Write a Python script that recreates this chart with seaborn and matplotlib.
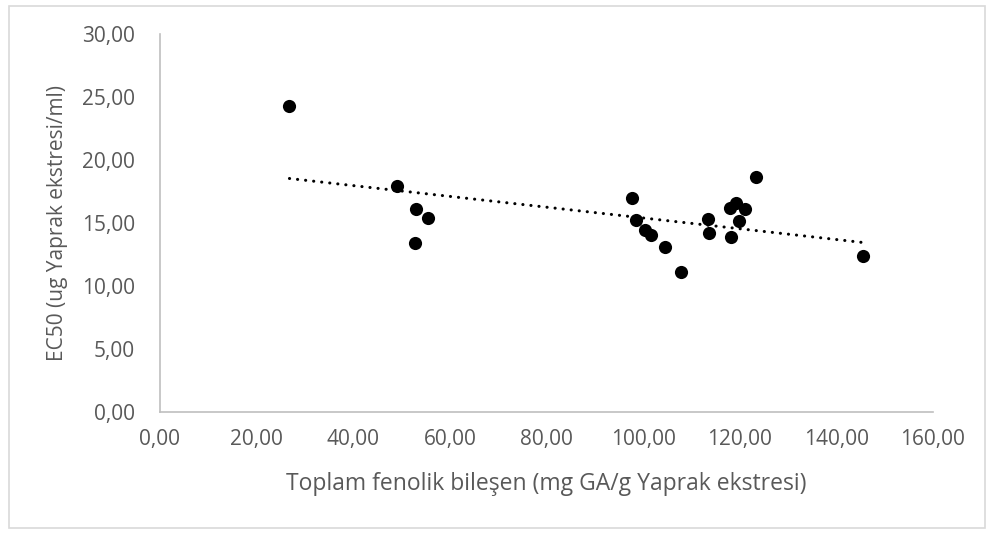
import matplotlib
matplotlib.use("Agg")
import matplotlib.pyplot as plt
from matplotlib.patches import Rectangle
from matplotlib.ticker import FuncFormatter, MultipleLocator
import numpy as np
import pandas as pd
import seaborn as sns

# Total phenolic content vs. EC50 of leaf extracts
phenolic = [26.8, 49.0, 52.9, 55.4, 52.7, 97.7, 98.5, 100.4, 101.6, 104.5,
            107.9, 113.5, 113.7, 123.3, 118.0, 119.2, 121.1, 119.9, 118.2, 145.6]
ec50 = [24.29, 17.94, 16.11, 15.42, 13.39, 16.96, 15.24, 14.44, 14.05, 13.12,
        11.09, 15.32, 14.18, 18.67, 16.21, 16.56, 16.09, 15.18, 13.91, 12.40]

x_label = "Toplam fenolik bileşen (mg GA/g Yaprak ekstresi)"
y_label = "EC50 (ug Yaprak ekstresi/ml)"

df = pd.DataFrame({"x": phenolic, "y": ec50})

sns.set_theme(style="white")
plt.rcParams["font.family"] = ["Open Sans", "DejaVu Sans"]

fig = plt.figure(figsize=(9.9, 5.36), dpi=100)
ax = fig.add_axes([0.1616, 0.2313, 0.9424 - 0.1616, 0.9366 - 0.2313])

# chart-area border
fig.patches.append(Rectangle((9 / 990, 1 - 528 / 536), (985 - 9) / 990, (528 - 6) / 536,
                             transform=fig.transFigure, fill=False,
                             edgecolor="#d9d9d9", linewidth=1.2))

sns.regplot(data=df, x="x", y="y", ax=ax, scatter=False, ci=None, truncate=True,
            line_kws=dict(color="black", linewidth=2.2, linestyle=(0, (0.05, 2.6)),
                          dash_capstyle="round"))
sns.scatterplot(data=df, x="x", y="y", ax=ax, color="black", s=90,
                edgecolor="black", linewidth=0, zorder=3)

ax.set_xlim(0, 160)
ax.set_ylim(0, 30)
ax.xaxis.set_major_locator(MultipleLocator(20))
ax.yaxis.set_major_locator(MultipleLocator(5))
fmt = FuncFormatter(lambda v, p: f"{v:.2f}".replace(".", ","))
ax.xaxis.set_major_formatter(fmt)
ax.yaxis.set_major_formatter(fmt)

for side in ("top", "right"):
    ax.spines[side].set_visible(False)
for side in ("left", "bottom"):
    ax.spines[side].set_color("#bfbfbf")
    ax.spines[side].set_linewidth(1.2)

ax.tick_params(axis="both", length=0, labelsize=15, labelcolor="#595959")
ax.tick_params(axis="x", pad=12)
ax.tick_params(axis="y", pad=18)
ax.set_xlabel(x_label, fontsize=16.5, color="#595959", labelpad=16)
ax.set_ylabel(y_label, fontsize=15, color="#595959", labelpad=10)
ax.grid(False)

fig.savefig("out.png", dpi=100)
